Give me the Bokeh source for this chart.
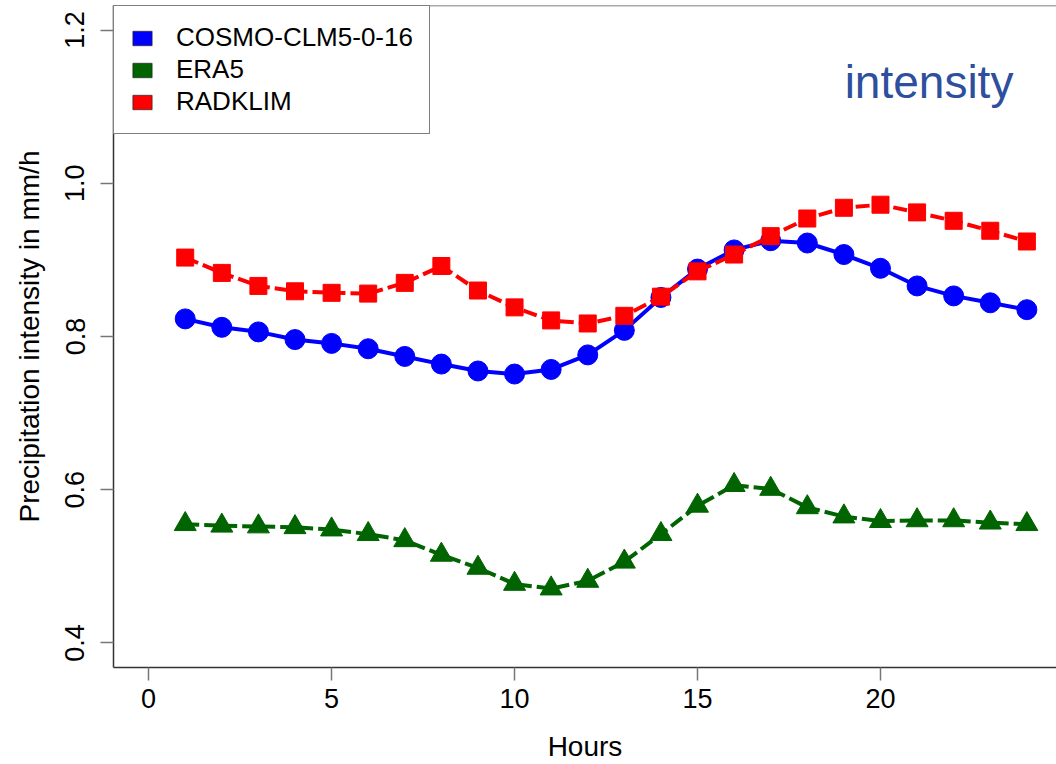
from bokeh.plotting import figure
from bokeh.models import Range1d, Span, Label, Legend, LegendItem, PrintfTickFormatter
from bokeh.embed import file_html
from bokeh.resources import INLINE

hours = list(range(1, 25))
cosmo = [0.823, 0.812, 0.806, 0.796, 0.791, 0.784, 0.774, 0.764, 0.755, 0.751, 0.757, 0.776,
         0.808, 0.851, 0.888, 0.913, 0.925, 0.922, 0.907, 0.889, 0.866, 0.853, 0.844, 0.835]
era5 = [0.555, 0.553, 0.552, 0.551, 0.548, 0.542, 0.534, 0.515, 0.498, 0.477, 0.471, 0.481,
        0.506, 0.542, 0.579, 0.606, 0.601, 0.577, 0.565, 0.559, 0.560, 0.560, 0.557, 0.555]
radklim = [0.903, 0.883, 0.866, 0.859, 0.857, 0.856, 0.870, 0.892, 0.860, 0.838, 0.821, 0.817,
           0.827, 0.852, 0.885, 0.907, 0.931, 0.954, 0.968, 0.972, 0.962, 0.951, 0.938, 0.924]
series_names = ["COSMO-CLM5-0-16", "ERA5", "RADKLIM"]
series_colors = ["#0000FF", "#006400", "#FF0000"]
x_ticks = [0, 5, 10, 15, 20]
y_ticks = [0.4, 0.6, 0.8, 1.0, 1.2]

FONT = "Liberation Sans"

p = figure(width=1056, height=764,
           x_range=Range1d(-0.96, 24.81), y_range=Range1d(0.368, 1.232),
           output_backend="svg", toolbar_location=None,
           min_border_left=113, min_border_right=0, min_border_top=5, min_border_bottom=97)
p.grid.visible = False
p.outline_line_color = None
p.background_fill_color = "white"
p.border_fill_color = "white"

for ax in (p.xaxis[0], p.yaxis[0]):
    ax.axis_line_color = "#333333"
    ax.axis_line_width = 1.5
    ax.major_tick_line_color = "#777777"
    ax.major_tick_line_width = 1.5
    ax.major_tick_out = 13
    ax.major_tick_in = 0
    ax.minor_tick_line_color = None
    ax.major_label_text_font = FONT
    ax.major_label_text_font_size = "27px"
    ax.major_label_text_color = "black"
    ax.axis_label_text_font = FONT
    ax.axis_label_text_font_size = "28px"
    ax.axis_label_text_font_style = "normal"
    ax.axis_label_text_color = "black"

p.xaxis.ticker = x_ticks
p.yaxis.ticker = y_ticks
p.yaxis.formatter = PrintfTickFormatter(format="%.1f")
p.xaxis.axis_label = "Hours"
p.yaxis.axis_label = "Precipitation intensity in mm/h"
p.yaxis.major_label_orientation = "vertical"
p.xaxis.major_label_standoff = 8
p.yaxis.major_label_standoff = 16
p.xaxis.axis_label_standoff = 20
p.yaxis.axis_label_standoff = 18

# top frame line
p.add_layout(Span(location=1.232, dimension="width", line_color="#555555", line_width=1.5))

# series
p.line(hours, cosmo, line_color=series_colors[0], line_width=4)
p.scatter(hours, cosmo, marker="circle", size=20, fill_color=series_colors[0], line_color=series_colors[0])

p.line(hours, era5, line_color=series_colors[1], line_width=4, line_dash="14 5")
p.scatter(hours, era5, marker="triangle", size=22, fill_color=series_colors[1], line_color=series_colors[1])

p.line(hours, radklim, line_color=series_colors[2], line_width=4, line_dash="14 5")
p.scatter(hours, radklim, marker="square", size=17, fill_color=series_colors[2], line_color=series_colors[2])

# legend with filled boxes (proxy glyphs with no drawable data)
nan = float("nan")
items = []
for name, col in zip(series_names, series_colors):
    r = p.quad(left=[nan], right=[nan], top=[nan], bottom=[nan],
               fill_color=col, line_color="#222222", line_width=0.7)
    items.append(LegendItem(label=name, renderers=[r]))

legend = Legend(items=items, location="top_left", margin=0, padding=16, spacing=1,
                glyph_width=24, glyph_height=18, label_standoff=22,
                label_text_font=FONT, label_text_font_size="26px", label_text_color="black",
                border_line_color="black", border_line_width=1,
                background_fill_color="white", background_fill_alpha=1)
p.add_layout(legend)

p.add_layout(Label(x=19.02, y=1.132, text="intensity", text_font=FONT, text_font_size="46px",
                   text_color="#2E4E9E", text_baseline="alphabetic", text_align="left"))

open("out.html", "w").write(file_html(p, INLINE))
